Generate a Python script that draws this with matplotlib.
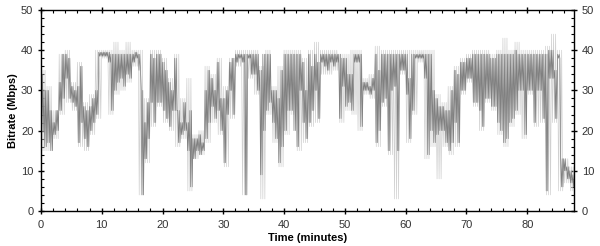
import numpy as np
import matplotlib
matplotlib.use("Agg")
import matplotlib.pyplot as plt
from matplotlib.ticker import MultipleLocator

# dark trace: high / low per half-minute bin, starting at t = 0
dark_hi = [34, 30, 30, 25, 22, 25, 32, 39, 39, 38, 31, 30, 31, 36, 26, 25, 26, 28, 30, 39.5,
           39.5, 39.5, 39.5, 39, 39, 39, 39, 39, 39, 39, 39, 39.5, 39, 30, 22, 27, 39, 38, 39, 39,
           37, 35, 32, 30, 38, 25, 22, 27, 22, 25, 18, 18, 19, 17, 30, 35, 33, 30, 37, 28,
           28, 30, 37, 38, 39, 39, 39, 39, 39, 39, 39, 39, 35, 39, 39, 39, 30, 30, 28, 35,
           39, 39, 39, 39, 39, 39, 37, 30, 39, 36, 39, 37, 39, 39, 39, 39, 39, 39, 39, 38,
           38, 34, 34, 39, 39, 39, 32, 32, 31, 33, 39, 35, 39, 39, 39, 39, 39, 39, 39, 39,
           39, 33, 39, 39, 39, 39, 39, 39, 39, 30, 28, 26, 26, 25, 25, 30, 35, 34, 37, 37,
           38, 38, 39, 39, 39, 39, 39, 39, 38, 38, 39, 39, 39, 39, 39, 39, 40, 39, 39, 39,
           39, 39, 39, 39, 39, 39, 39, 40, 40, 35, 39, 13, 13, 11, 10, 9]
dark_lo = [20, 16, 17, 15, 19, 20, 25, 28, 33, 28, 27, 26, 17, 22, 18, 16, 20, 22, 24, 38.5,
           38.5, 38.5, 37, 25, 30, 32, 33, 31, 34, 33, 37, 38, 35, 4, 13, 18, 27, 22, 27, 27,
           25, 23, 21, 25, 25, 17, 19, 20, 15, 6, 13, 15, 14, 15, 18, 22, 26, 23, 25, 20,
           12, 24, 30, 24, 37, 38, 37, 4, 38, 34, 34, 30, 9, 20, 25, 27, 22, 18, 12, 16,
           20, 25, 25, 20, 16, 30, 22, 18, 22, 25, 30, 23, 37, 36, 35, 37, 36, 37, 23, 31,
           26, 27, 25, 37, 37, 21, 30, 30, 29, 30, 17, 20, 27, 28, 15, 30, 31, 15, 35, 35,
           29, 18, 25, 38, 38, 38, 33, 14, 20, 17, 19, 20, 20, 17, 15, 17, 22, 17, 30, 30,
           33, 33, 27, 27, 25, 21, 28, 28, 26, 26, 22, 20, 17, 18, 22, 23, 25, 30, 30, 19,
           30, 30, 22, 30, 30, 23, 5, 33, 33, 23, 38, 6, 10, 8, 7, 6]

# light trace: high / low per one-minute bin, starting at t = 0
light_hi = [35, 31, 25, 39, 40, 32, 37, 27, 29, 40, 40, 40, 42, 40, 42, 40, 40, 28, 40, 40,
            38, 33, 39, 28, 33, 19, 20, 36, 34, 38, 31, 38, 40, 40, 40, 40, 36, 40, 31, 36,
            40, 40, 40, 38, 40, 42, 40, 40, 40, 39, 39, 40, 40, 33, 34, 41, 40, 40, 40, 40,
            40, 40, 40, 40, 40, 29, 27, 31, 36, 38, 39, 40, 40, 40, 39, 40, 43, 40, 42, 40,
            40, 40, 40, 41, 44, 40, 13, 11]
light_lo = [15, 15, 18, 24, 27, 25, 16, 15, 19, 23, 38, 24, 29, 30, 32, 36, 4, 12, 21, 26,
            22, 20, 16, 18, 5, 13, 14, 17, 22, 19, 11, 23, 36, 4, 33, 29, 3, 24, 17, 11,
            19, 24, 15, 17, 21, 22, 34, 34, 35, 22, 25, 24, 20, 29, 28, 16, 26, 14, 3, 34,
            17, 24, 37, 13, 16, 8, 16, 14, 16, 29, 32, 26, 20, 27, 25, 19, 16, 21, 24, 18,
            29, 21, 22, 4, 22, 5, 7, 5]


def zigzag(hi, lo, step, swings):
    # run between each bin's high and low several times inside the bin
    t = []
    v = []
    dt = step / (2 * swings)
    for i in range(len(hi)):
        for k in range(swings):
            t += [i * step + 2 * k * dt, i * step + (2 * k + 1) * dt]
            v += [hi[i], lo[i]]
    return np.array(t), np.array(v)


plt.rcParams["font.family"] = ["Liberation Sans", "DejaVu Sans"]

fig = plt.figure(figsize=(6, 2.46), dpi=100)
ax = fig.add_axes([0.0683, 0.1423, 0.8884, 0.817])

lt, lv = zigzag(light_hi, light_lo, 1.0, 3)
dt_, dv = zigzag(dark_hi, dark_lo, 0.5, 2)
ax.plot(lt, lv, color="#d0d0d0", lw=0.5)
ax.plot(dt_, dv, color="#808080", lw=0.5)

ax.set_xlim(0, 87.7)
ax.set_ylim(0, 50)
ax.xaxis.set_major_locator(MultipleLocator(10))
ax.xaxis.set_minor_locator(MultipleLocator(2))
ax.yaxis.set_major_locator(MultipleLocator(10))
ax.yaxis.set_minor_locator(MultipleLocator(2))

ax.tick_params(which="major", direction="inout", length=5, width=1, labelsize=8,
               top=True, right=True, labelright=True, colors="black", labelcolor="#333333")
ax.tick_params(which="minor", direction="in", length=2, width=0.8,
               top=True, right=True)
ax.tick_params(axis="x", pad=4)
ax.tick_params(axis="y", pad=3)
for s in ax.spines.values():
    s.set_linewidth(1)

ax.set_xlabel("Time (minutes)", fontsize=8, fontweight="bold", labelpad=2)
ax.set_ylabel("Bitrate (Mbps)", fontsize=8, fontweight="bold", labelpad=2)

fig.savefig("out.png", dpi=100)
